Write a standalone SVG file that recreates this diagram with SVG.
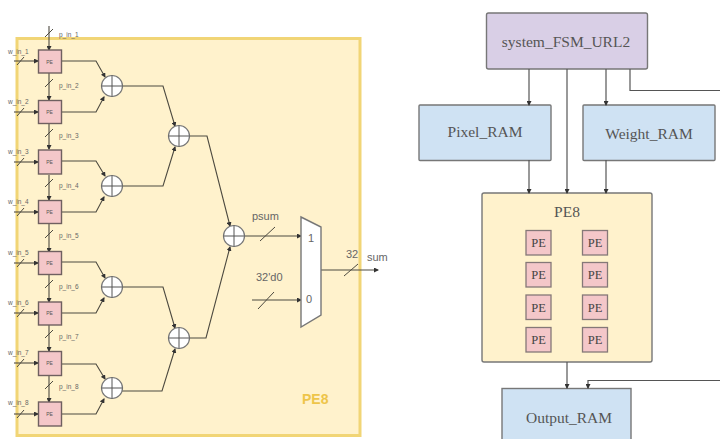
<svg xmlns="http://www.w3.org/2000/svg" width="720" height="439" viewBox="0 0 720 439">
<defs>
<style>
.w{fill:none;stroke:#4d4a40;stroke-width:1.1}
.c{fill:none;stroke:#555;stroke-width:1.2}
.t{stroke:#4d4a40;stroke-width:1}
.pe{fill:#f4c7c9;stroke:#6f6060;stroke-width:1.4}
.add{fill:#fff;stroke:#777;stroke-width:1.2}
.addx{stroke:#555;stroke-width:1}
.s{font-family:"Liberation Sans",Arial,sans-serif;font-size:6.500px;fill:#666}
.g{font-family:"Liberation Sans",Arial,sans-serif;font-size:5px;fill:#555;text-anchor:middle}
.m{font-family:"Liberation Sans",Arial,sans-serif;font-size:11px;fill:#666}
.b{font-family:"Liberation Serif","Times New Roman",serif;font-size:15.500px;fill:#555;text-anchor:middle}
.p{font-family:"Liberation Serif","Times New Roman",serif;font-size:12.500px;fill:#444;text-anchor:middle}
.box{stroke:#777;stroke-width:1.4}
.blue{fill:#cfe2f3}
.sp{fill:#f4c7c9;stroke:#857878;stroke-width:1.3}
</style>
<marker id="a" markerWidth="5" markerHeight="5" refX="4" refY="2.5" orient="auto" markerUnits="userSpaceOnUse"><path d="M0 0L5 2.5L0 5Z" fill="#333"/></marker>
</defs>
<g id="pe8-detail">
<rect x="17" y="38.500" width="343" height="397" fill="#fff2cc" stroke="#f1d576" stroke-width="3"/>
<text x="302" y="404" font-family="Liberation Sans,Arial,sans-serif" font-size="14" font-weight="bold" fill="#eec54a">PE8</text>
</g>
<g id="connectors-left">
<path class="w" marker-end="url(#a)" d="M49 26V50"/>
<path class="w" marker-end="url(#a)" d="M49 73V100"/>
<path class="w" marker-end="url(#a)" d="M49 124V149"/>
<path class="w" marker-end="url(#a)" d="M49 175V200"/>
<path class="w" marker-end="url(#a)" d="M49 223V252"/>
<path class="w" marker-end="url(#a)" d="M49 275V302"/>
<path class="w" marker-end="url(#a)" d="M49 325V351"/>
<path class="w" marker-end="url(#a)" d="M49 376V402"/>
<path class="w" marker-end="url(#a)" d="M14 61H38"/>
<path class="w" marker-end="url(#a)" d="M14 112H38"/>
<path class="w" marker-end="url(#a)" d="M14 162H38"/>
<path class="w" marker-end="url(#a)" d="M14 212H38"/>
<path class="w" marker-end="url(#a)" d="M14 263H38"/>
<path class="w" marker-end="url(#a)" d="M14 313H38"/>
<path class="w" marker-end="url(#a)" d="M14 363H38"/>
<path class="w" marker-end="url(#a)" d="M14 414H38"/>
<path class="t" d="M45 37L53 29M45 87L53 79M45 137L53 129M45 187L53 179M45 238L53 230M45 288L53 280M45 338L53 330M45 389L53 381"/>
<path class="t" d="M17 65L24 57M17 116L24 108M17 166L24 158M17 216L24 208M17 267L24 259M17 317L24 309M17 367L24 359M17 418L24 410"/>
<path class="w" marker-end="url(#a)" d="M62 61H96L105 77"/>
<path class="w" marker-end="url(#a)" d="M62 112H96L104 97"/>
<path class="w" marker-end="url(#a)" d="M62 161H96L105 176"/>
<path class="w" marker-end="url(#a)" d="M62 212H96L104 197"/>
<path class="w" marker-end="url(#a)" d="M62 262H96L105 278"/>
<path class="w" marker-end="url(#a)" d="M62 313H96L104 298"/>
<path class="w" marker-end="url(#a)" d="M62 364H96L105 379"/>
<path class="w" marker-end="url(#a)" d="M62 414H96L104 399"/>
<path class="w" marker-end="url(#a)" d="M122 86H163L175 126"/>
<path class="w" marker-end="url(#a)" d="M122 186H163L175 147"/>
<path class="w" marker-end="url(#a)" d="M122 287H163L175 328"/>
<path class="w" marker-end="url(#a)" d="M122 391H162L175 349"/>
<path class="w" marker-end="url(#a)" d="M189 136H207L230 226"/>
<path class="w" marker-end="url(#a)" d="M189 338H206L230 247"/>
<path class="w" marker-end="url(#a)" d="M245 236H301"/>
<path class="w" marker-end="url(#a)" d="M252 300H301"/>
<path class="w" marker-end="url(#a)" d="M321 270H378"/>
<path class="t" d="M260 241L275 227M258 309L274 292M344 276L358 264"/>
</g>
<g id="left-labels">
<text class="s" x="59" y="37">p_in_1</text><text class="s" x="59" y="88">p_in_2</text><text class="s" x="59" y="138">p_in_3</text><text class="s" x="59" y="188">p_in_4</text>
<text class="s" x="59" y="238">p_in_5</text><text class="s" x="59" y="289">p_in_6</text><text class="s" x="59" y="339">p_in_7</text><text class="s" x="59" y="389">p_in_8</text>
<text class="s" x="8" y="54">w_in_1</text><text class="s" x="8" y="104">w_in_2</text><text class="s" x="8" y="154">w_in_3</text><text class="s" x="8" y="204">w_in_4</text>
<text class="s" x="8" y="255">w_in_5</text><text class="s" x="8" y="305">w_in_6</text><text class="s" x="8" y="355">w_in_7</text><text class="s" x="8" y="405">w_in_8</text>
<text class="m" x="252" y="220">psum</text><text class="m" x="256" y="281">32'd0</text><text class="m" x="346" y="258">32</text><text class="m" x="367" y="261">sum</text>
</g>
<g id="pe-l1"><rect class="pe" x="38.500" y="50" width="23" height="23"/><text class="g" x="49.500" y="63.500">PE</text></g>
<g id="pe-l2"><rect class="pe" x="38.500" y="100.500" width="23" height="23"/><text class="g" x="49.500" y="114">PE</text></g>
<g id="pe-l3"><rect class="pe" x="38.500" y="150" width="23" height="24"/><text class="g" x="49.500" y="164">PE</text></g>
<g id="pe-l4"><rect class="pe" x="38.500" y="200.500" width="23" height="23"/><text class="g" x="49.500" y="214">PE</text></g>
<g id="pe-l5"><rect class="pe" x="38.500" y="251.500" width="23" height="23"/><text class="g" x="49.500" y="265">PE</text></g>
<g id="pe-l6"><rect class="pe" x="38.500" y="302" width="23" height="23"/><text class="g" x="49.500" y="315">PE</text></g>
<g id="pe-l7"><rect class="pe" x="38.500" y="351.500" width="23" height="24"/><text class="g" x="49.500" y="365">PE</text></g>
<g id="pe-l8"><rect class="pe" x="38.500" y="402" width="23" height="24"/><text class="g" x="49.500" y="416">PE</text></g>
<g id="add-1"><circle class="add" cx="112" cy="86" r="10.500"/><path class="addx" d="M101.500 86H122.500M112 75.500V96.500"/></g>
<g id="add-2"><circle class="add" cx="112" cy="186" r="10.500"/><path class="addx" d="M101.500 186H122.500M112 175.500V196.500"/></g>
<g id="add-3"><circle class="add" cx="112" cy="287" r="10.500"/><path class="addx" d="M101.500 287H122.500M112 276.500V297.500"/></g>
<g id="add-4"><circle class="add" cx="112" cy="388" r="10.500"/><path class="addx" d="M101.500 388H122.500M112 377.500V398.500"/></g>
<g id="add-5"><circle class="add" cx="179" cy="136" r="10.500"/><path class="addx" d="M168.500 136H189.500M179 125.500V146.500"/></g>
<g id="add-6"><circle class="add" cx="179" cy="338" r="10.500"/><path class="addx" d="M168.500 338H189.500M179 327.500V348.500"/></g>
<g id="add-7"><circle class="add" cx="234" cy="236" r="10.500"/><path class="addx" d="M223.500 236H244.500M234 225.500V246.500"/></g>
<g id="mux"><path d="M301 217L321 227V315L301 327Z" fill="#fff" stroke="#777" stroke-width="1.4"/><text class="m" x="308" y="242">1</text><text class="m" x="306" y="303">0</text></g>
<g id="fsm"><rect class="box" x="486.500" y="13" width="161" height="56" rx="2" fill="#d9cfe6"/><text class="b" x="566" y="47">system_FSM_URL2</text></g>
<g id="pixel"><rect class="box blue" x="419" y="105" width="132" height="55.500" rx="1"/><text class="b" x="485" y="137">Pixel_RAM</text></g>
<g id="weight"><rect class="box blue" x="583" y="105" width="132" height="55.500" rx="1"/><text class="b" x="649" y="139">Weight_RAM</text></g>
<g id="pe8"><rect class="box" x="482" y="193" width="170" height="169" rx="2" fill="#fff2cc"/><text class="b" x="567" y="217">PE8</text></g>
<g id="output"><rect class="box blue" x="502" y="388.500" width="129" height="60"/><text class="b" x="569" y="423">Output_RAM</text></g>
<g id="pe-r1"><rect class="sp" x="526" y="230.500" width="25" height="24.500"/><text class="p" x="538.500" y="247">PE</text></g>
<g id="pe-r2"><rect class="sp" x="582.500" y="230.500" width="25" height="24.500"/><text class="p" x="595" y="247">PE</text></g>
<g id="pe-r3"><rect class="sp" x="526" y="262.500" width="25" height="24.500"/><text class="p" x="538.500" y="279">PE</text></g>
<g id="pe-r4"><rect class="sp" x="582.500" y="262.500" width="25" height="24.500"/><text class="p" x="595" y="279">PE</text></g>
<g id="pe-r5"><rect class="sp" x="526" y="295" width="25" height="24.500"/><text class="p" x="538.500" y="311.500">PE</text></g>
<g id="pe-r6"><rect class="sp" x="582.500" y="295" width="25" height="24.500"/><text class="p" x="595" y="311.500">PE</text></g>
<g id="pe-r7"><rect class="sp" x="526" y="327.500" width="25" height="24.500"/><text class="p" x="538.500" y="344">PE</text></g>
<g id="pe-r8"><rect class="sp" x="582.500" y="327.500" width="25" height="24.500"/><text class="p" x="595" y="344">PE</text></g>
<g id="connectors-right">
<path class="c" marker-end="url(#a)" d="M529 69V105"/>
<path class="c" marker-end="url(#a)" d="M606 69V105"/>
<path class="c" marker-end="url(#a)" d="M567 69V193"/>
<path class="c" marker-end="url(#a)" d="M529 160V193"/>
<path class="c" marker-end="url(#a)" d="M606 160V193"/>
<path class="c" d="M630 69V90.500H720"/>
<path class="c" marker-end="url(#a)" d="M567 362V388"/>
<path class="c" marker-end="url(#a)" d="M720 380.500H588V388"/>
</g>
</svg>
